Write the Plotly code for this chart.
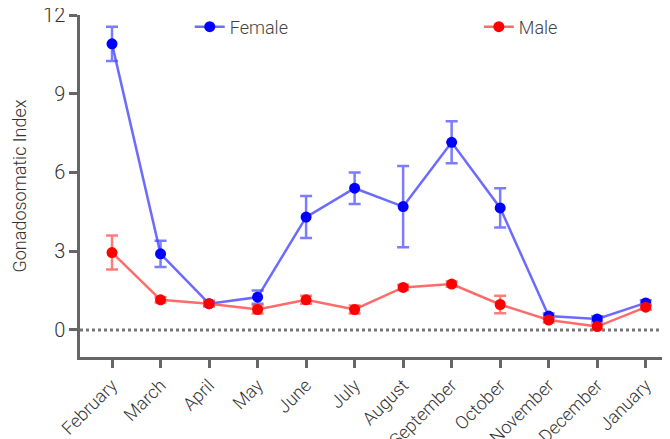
import plotly.graph_objects as go

months = ["February", "March", "April", "May", "June", "July", "August",
          "September", "October", "November", "December", "January"]
female = [10.9, 2.9, 1.0, 1.25, 4.3, 5.4, 4.7, 7.15, 4.65, 0.53, 0.42, 1.03]
female_err = [0.65, 0.5, 0.1, 0.25, 0.8, 0.6, 1.55, 0.8, 0.75, 0.1, 0.1, 0.1]
male = [2.95, 1.15, 1.0, 0.78, 1.15, 0.78, 1.62, 1.75, 0.97, 0.38, 0.13, 0.87]
male_err = [0.65, 0.1, 0.1, 0.15, 0.15, 0.15, 0.1, 0.1, 0.33, 0.1, 0.1, 0.1]
y_ticks = [0, 3, 6, 9, 12]

fig = go.Figure()
fig.add_trace(go.Scatter(
    x=months, y=female, name="Female", mode="lines+markers", legend="legend",
    showlegend=True,
    line=dict(color="rgba(70,70,255,0.8)", width=2.5),
    marker=dict(color="#0000ff", size=11),
    error_y=dict(type="data", array=female_err, color="rgba(80,80,255,0.75)",
                 thickness=2.5, width=6),
))
fig.add_trace(go.Scatter(
    x=months, y=male, name="Male", mode="lines+markers", legend="legend2",
    showlegend=True,
    line=dict(color="rgba(255,70,70,0.8)", width=2.5),
    marker=dict(color="#ff0000", size=11),
    error_y=dict(type="data", array=male_err, color="rgba(255,80,80,0.75)",
                 thickness=2.5, width=6),
))

fig.add_shape(type="line", xref="paper", yref="y", x0=0, x1=1, y0=0, y1=0,
              line=dict(color="#777", width=3, dash="dot"), layer="below")

legend_style = dict(orientation="h", yanchor="middle", xanchor="left",
                    font=dict(size=18, color="#444", weight=300),
                    bgcolor="rgba(0,0,0,0)", visible=True)

# the page body adds an 8px margin, so the figure is 8px smaller than the window
fig.update_layout(
    width=662, height=431,
    showlegend=True,
    margin=dict(l=72, r=0, t=7, b=82),
    plot_bgcolor="white", paper_bgcolor="white",
    font=dict(family="Roboto", color="#333", weight=300),
    legend=dict(x=0.186, y=0.965, **legend_style),
    legend2=dict(x=0.676, y=0.965, **legend_style),
    xaxis=dict(
        range=[-0.66, 11.5], showline=True, linecolor="#666", linewidth=2.5,
        ticks="outside", ticklen=8, tickwidth=2.5, tickcolor="#666",
        tickangle=-45, tickfont=dict(size=18, color="#333", weight=300),
        showgrid=False, zeroline=False, automargin=False,
    ),
    yaxis=dict(
        range=[-1.03, 12], tickvals=y_ticks, showline=True, linecolor="#666",
        linewidth=2.5, ticks="outside", ticklen=8, tickwidth=2.5, tickcolor="#666",
        tickfont=dict(size=20, color="#333", weight=300), showgrid=False,
        zeroline=False, automargin=False, ticklabeloverflow="allow",
        title=dict(text="Gonadosomatic Index",
                   font=dict(size=18, color="#333", weight=300), standoff=12),
    ),
)

fig.write_html("out.html")
